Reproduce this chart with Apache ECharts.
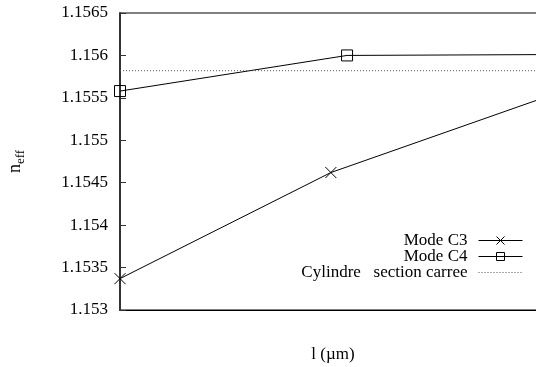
<!DOCTYPE html>
<html><head><meta charset="utf-8">
<script src="https://cdn.jsdelivr.net/npm/echarts@6/dist/echarts.min.js"></script>
<style>html,body{margin:0;padding:0;background:#fff}#c{width:536px;height:367px}</style>
</head><body><div id="c"></div>
<script>
const xC3 = [0, 0.495, 1.0];
const yC3 = [1.15337, 1.15462, 1.15551];
const xC4 = [0, 0.533, 1.0];
const yC4 = [1.15558, 1.15600, 1.15601];
const xCyl = [0, 1.0];
const yCyl = [1.15582, 1.15582];
const seriesNames = ['Mode C3', 'Mode C4', 'Cylindre   section carree'];
const yTicks = [1.153, 1.1535, 1.154, 1.1545, 1.155, 1.1555, 1.156, 1.1565];

const zip = (a, b) => a.map((v, i) => [v, b[i]]);
const font = 'Liberation Serif';
const chart = echarts.init(document.getElementById('c'));
chart.setOption({
  animation: false,
  grid: { left: 120, width: 426, top: 13, height: 297, outerBoundsMode: 'none', containLabel: false,
    show: true, borderColor: '#000', borderWidth: 1, backgroundColor: 'transparent' },
  xAxis: {
    type: 'value', min: 0, max: 1,
    name: 'l (µm)', nameLocation: 'middle', nameGap: 36,
    nameTextStyle: { fontFamily: font, fontSize: 17, color: '#000' },
    axisLine: { show: true, lineStyle: { color: '#000', width: 1 } },
    axisTick: { show: false }, axisLabel: { show: false }, splitLine: { show: false }
  },
  yAxis: {
    type: 'value', min: yTicks[0], max: yTicks[yTicks.length - 1], interval: 0.0005,
    name: '{n|n}{s|eff}', nameLocation: 'middle', nameGap: 93, nameRotate: 90,
    nameTextStyle: { fontFamily: font, color: '#000', rich: {
      n: { fontFamily: font, fontSize: 18, color: '#000' },
      s: { fontFamily: font, fontSize: 13, color: '#000', verticalAlign: 'bottom', padding: [10, 0, 0, 0] } } },
    axisLine: { show: true, lineStyle: { color: '#333', width: 2 } },
    axisTick: { show: true, inside: true, length: 6, lineStyle: { color: '#333', width: 1 } },
    axisLabel: { fontFamily: font, fontSize: 17, color: '#000', margin: 12,
      formatter: v => String(+v.toFixed(4)) },
    splitLine: { show: false }
  },
  legend: {
    orient: 'vertical', right: 13, top: 232, align: 'right', itemGap: -1, padding: 0,
    itemWidth: 44, itemHeight: 10,
    textStyle: { fontFamily: font, fontSize: 17, color: '#000', padding: [0, 6, 0, 0] },
    data: [
      { name: seriesNames[0], itemStyle: { borderWidth: 1 }, lineStyle: { width: 1 } },
      { name: seriesNames[1], itemStyle: { borderWidth: 1 }, lineStyle: { width: 1 } },
      { name: seriesNames[2], itemStyle: { color: 'rgba(0,0,0,0)', borderWidth: 0 }, lineStyle: { width: 1 } }
    ]
  },
  series: [
    { name: seriesNames[0], type: 'line', data: zip(xC3, yC3),
      symbol: 'path://M0,0L10,10M10,0L0,10', symbolSize: 11, showAllSymbol: true,
      lineStyle: { color: '#000', width: 1 },
      itemStyle: { color: '#000', borderColor: '#000', borderWidth: 1 } },
    { name: seriesNames[1], type: 'line', data: zip(xC4, yC4),
      symbol: 'rect', symbolSize: 11,
      lineStyle: { color: '#000', width: 1 },
      itemStyle: { color: 'rgba(255,255,255,0)', borderColor: '#000', borderWidth: 1 } },
    { name: seriesNames[2], type: 'line', data: zip(xCyl, yCyl), symbol: 'none',
      lineStyle: { color: '#555', width: 1, type: [1, 2] },
      itemStyle: { color: '#555' } }
  ]
});
</script></body></html>
